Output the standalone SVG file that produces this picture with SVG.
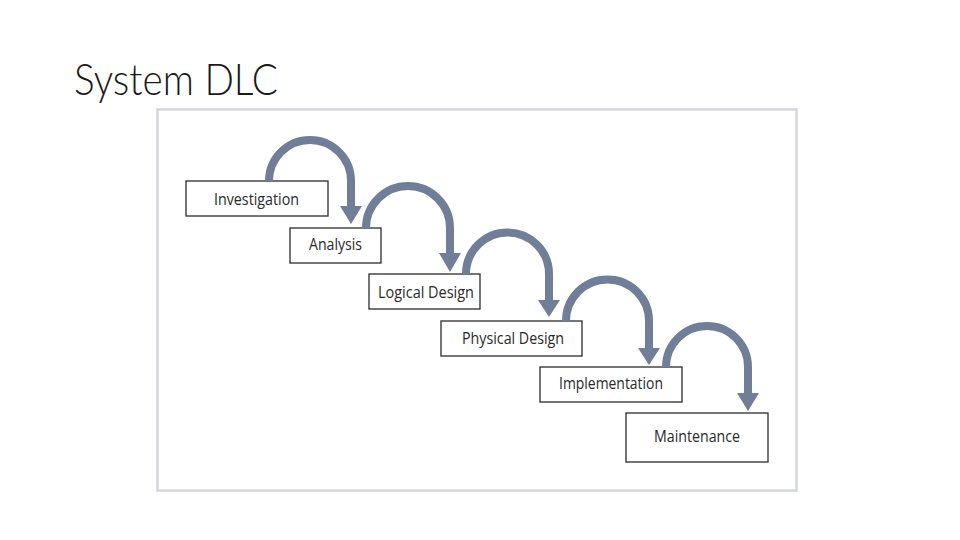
<svg xmlns="http://www.w3.org/2000/svg" width="960" height="540" viewBox="0 0 960 540">
<style>
.box{fill:#ffffff;stroke:#2b2b2b;stroke-width:1.3}
.lbl{font-family:"Open Sans","Liberation Sans",sans-serif;font-size:17px;fill:#2a2a2a;text-anchor:middle}
.arc{fill:none;stroke:#707e97;stroke-width:8}
.head{fill:#707e97}
</style>
<rect width="960" height="540" fill="#ffffff"/>
<text x="74" y="95" font-family="Lato,'Open Sans','Liberation Sans',sans-serif" font-weight="300" font-size="44" fill="#1a1a1a" textLength="204" lengthAdjust="spacingAndGlyphs">System DLC</text>
<rect x="157.5" y="109.5" width="639" height="381" fill="none" stroke="#d3d6dc" stroke-width="2.5"/>
<g id="investigation"><rect class="box" x="186" y="181" width="142" height="35"/><text class="lbl" x="256.5" y="205" textLength="85" lengthAdjust="spacingAndGlyphs">Investigation</text></g>
<g id="analysis"><rect class="box" x="290" y="228" width="91" height="35"/><text class="lbl" x="335.5" y="250" textLength="53" lengthAdjust="spacingAndGlyphs">Analysis</text></g>
<g id="logical"><rect class="box" x="369" y="274" width="111" height="35"/><text class="lbl" x="426" y="298" textLength="96" lengthAdjust="spacingAndGlyphs">Logical Design</text></g>
<g id="physical"><rect class="box" x="441" y="321" width="141" height="35"/><text class="lbl" x="513" y="344" textLength="102" lengthAdjust="spacingAndGlyphs">Physical Design</text></g>
<g id="implementation"><rect class="box" x="540" y="367" width="142" height="35"/><text class="lbl" x="611" y="389" textLength="104" lengthAdjust="spacingAndGlyphs">Implementation</text></g>
<g id="maintenance"><rect class="box" x="626" y="413" width="142" height="49"/><text class="lbl" x="697" y="442" textLength="86" lengthAdjust="spacingAndGlyphs">Maintenance</text></g>
<g id="connectors">
<path class="arc" d="M269,181 A41,41 0 0 1 351,181 L351,207"/>
<polygon class="head" points="340,206 362,206 351,224"/>
<path class="arc" d="M366,228 A42,42 0 0 1 450,228 L450,254"/>
<polygon class="head" points="439,253 461,253 450,272"/>
<path class="arc" d="M466,274 A41.5,41.5 0 0 1 549,274 L549,301"/>
<polygon class="head" points="538,300 560,300 549,317"/>
<path class="arc" d="M566,321 A41.5,41.5 0 0 1 649,321 L649,349"/>
<polygon class="head" points="638,348 660,348 649,365"/>
<path class="arc" d="M666,367 A41,41 0 0 1 748,367 L748,394"/>
<polygon class="head" points="737,393 759,393 748,411"/>
</g>
</svg>
